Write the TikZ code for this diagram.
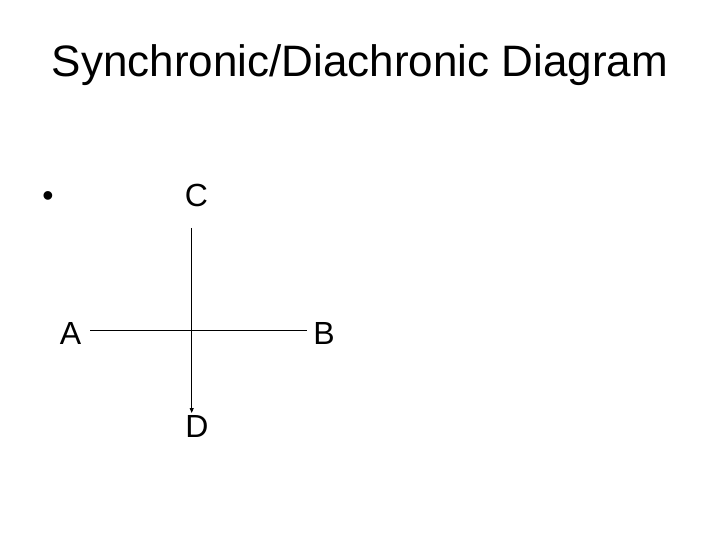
\documentclass[tikz,border=0pt]{standalone}
\usepackage{fontspec}
\setmainfont{Liberation Sans}
\usetikzlibrary{arrows.meta}
\begin{document}
\begin{tikzpicture}[x=1pt,y=-1pt,
  titletext/.style={anchor=base,inner sep=0pt,font=\fontsize{44}{48}\selectfont},
  lbl/.style={anchor=base,inner sep=0pt,font=\fontsize{32}{36}\selectfont},
  ln/.style={line width=1pt,black}]
\useasboundingbox[fill=white] (0,0) rectangle (720,540);
\node[titletext] (title) at (360,77) {Synchronic/Diachronic Diagram};
\node[lbl] (bullet) at (48,207) {•};
\node[lbl] (C) at (196.5,207) {C};
\node[lbl] (A) at (70.5,344) {A};
\node[lbl] (B) at (324,344) {B};
\node[lbl] (D) at (197,437) {D};
\coordinate (ctop) at (191.7,228);
\coordinate (dbot) at (191.7,413);
\coordinate (aend) at (90,330.7);
\coordinate (bend) at (307,330.7);
\draw[ln] (aend) -- (bend);
\draw[ln,-{Triangle[width=4pt,length=5pt]}] (ctop) -- (dbot);
\end{tikzpicture}
\end{document}
